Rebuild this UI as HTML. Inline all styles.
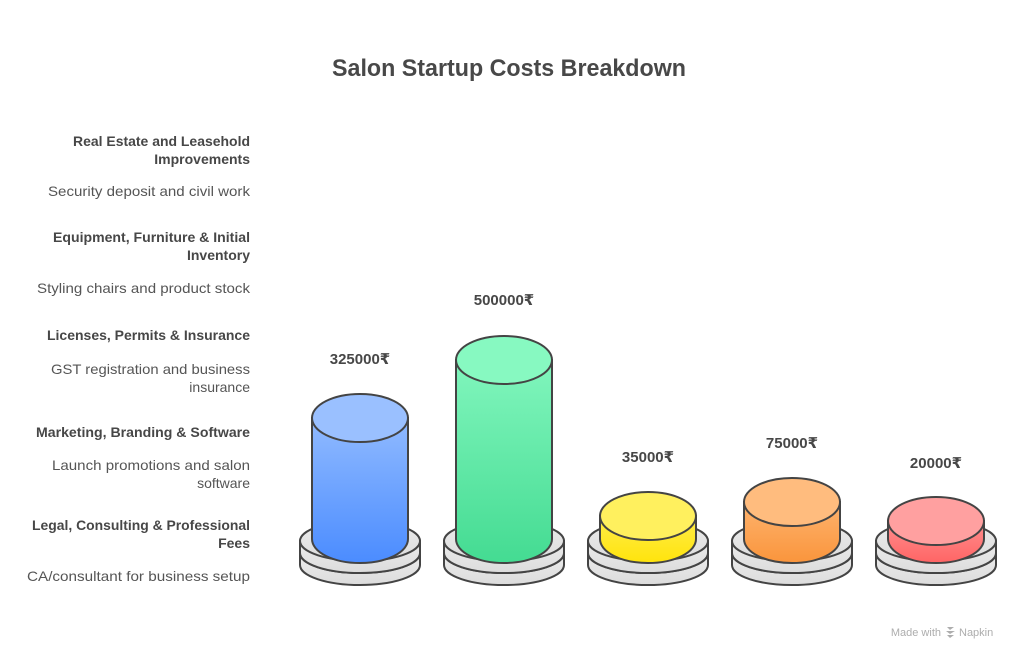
<!DOCTYPE html>
<html>
<head>
<meta charset="utf-8">
<style>
  html,body{margin:0;padding:0;background:#fff;}
  svg{display:block;}
  .h{font-family:"Liberation Sans","DejaVu Sans",sans-serif;font-weight:bold;font-size:14px;fill:#474747;}
  .d{font-family:"Liberation Sans","DejaVu Sans",sans-serif;font-size:14px;fill:#555;}
  .v{font-family:"Liberation Sans","DejaVu Sans",sans-serif;font-weight:bold;font-size:15px;fill:#474747;}
</style>
</head>
<body>
<svg width="1020" height="660" viewBox="0 0 1020 660" xmlns="http://www.w3.org/2000/svg">
  <defs>
    <linearGradient id="gPlate" x1="0" y1="0" x2="0" y2="1">
      <stop offset="0" stop-color="#ececec"/>
      <stop offset="1" stop-color="#dcdcdc"/>
    </linearGradient>
    <linearGradient id="gBlue" gradientUnits="userSpaceOnUse" x1="0" y1="394" x2="0" y2="563">
      <stop offset="0" stop-color="#9cc2ff"/>
      <stop offset="1" stop-color="#4b8cff"/>
    </linearGradient>
    <linearGradient id="gGreen" gradientUnits="userSpaceOnUse" x1="0" y1="336" x2="0" y2="563">
      <stop offset="0" stop-color="#88f9c2"/>
      <stop offset="1" stop-color="#44db92"/>
    </linearGradient>
    <linearGradient id="gYellow" gradientUnits="userSpaceOnUse" x1="0" y1="492" x2="0" y2="563">
      <stop offset="0" stop-color="#fff06a"/>
      <stop offset="1" stop-color="#ffe40c"/>
    </linearGradient>
    <linearGradient id="gOrange" gradientUnits="userSpaceOnUse" x1="0" y1="478" x2="0" y2="563">
      <stop offset="0" stop-color="#ffbf82"/>
      <stop offset="1" stop-color="#fa953c"/>
    </linearGradient>
    <linearGradient id="gRed" gradientUnits="userSpaceOnUse" x1="0" y1="497" x2="0" y2="563">
      <stop offset="0" stop-color="#ffa6a6"/>
      <stop offset="1" stop-color="#ff6565"/>
    </linearGradient>
  </defs>

  <!-- Title -->
  <text x="509" y="76" text-anchor="middle" font-family="Liberation Sans, DejaVu Sans, sans-serif" font-weight="bold" font-size="24" fill="#484848" textLength="354" lengthAdjust="spacingAndGlyphs">Salon Startup Costs Breakdown</text>

  <!-- Left labels -->
  <g text-anchor="end">
    <text class="h" x="250" y="146" textLength="177" lengthAdjust="spacingAndGlyphs">Real Estate and Leasehold</text>
    <text class="h" x="250" y="164">Improvements</text>
    <text class="d" x="250" y="196" textLength="202" lengthAdjust="spacingAndGlyphs">Security deposit and civil work</text>

    <text class="h" x="250" y="242" textLength="197" lengthAdjust="spacingAndGlyphs">Equipment, Furniture &amp; Initial</text>
    <text class="h" x="250" y="260">Inventory</text>
    <text class="d" x="250" y="293" textLength="213" lengthAdjust="spacingAndGlyphs">Styling chairs and product stock</text>

    <text class="h" x="250" y="340" textLength="203" lengthAdjust="spacingAndGlyphs">Licenses, Permits &amp; Insurance</text>
    <text class="d" x="250" y="374" textLength="199" lengthAdjust="spacingAndGlyphs">GST registration and business</text>
    <text class="d" x="250" y="392">insurance</text>

    <text class="h" x="250" y="437" textLength="214" lengthAdjust="spacingAndGlyphs">Marketing, Branding &amp; Software</text>
    <text class="d" x="250" y="470" textLength="198" lengthAdjust="spacingAndGlyphs">Launch promotions and salon</text>
    <text class="d" x="250" y="488">software</text>

    <text class="h" x="250" y="530" textLength="218" lengthAdjust="spacingAndGlyphs">Legal, Consulting &amp; Professional</text>
    <text class="h" x="250" y="548">Fees</text>
    <text class="d" x="250" y="581" textLength="223" lengthAdjust="spacingAndGlyphs">CA/consultant for business setup</text>
  </g>

  <!-- Plates -->
  <g stroke="#444" stroke-width="2" fill="url(#gPlate)">
    <path d="M300,553 L300,565 A60,20 0 0 0 420,565 L420,553 Z"/>
    <ellipse cx="360" cy="553" rx="60" ry="20"/>
    <path d="M300,541 L300,553 A60,20 0 0 0 420,553 L420,541 Z"/>
    <ellipse cx="360" cy="541" rx="60" ry="20"/>

    <path d="M444,553 L444,565 A60,20 0 0 0 564,565 L564,553 Z"/>
    <ellipse cx="504" cy="553" rx="60" ry="20"/>
    <path d="M444,541 L444,553 A60,20 0 0 0 564,553 L564,541 Z"/>
    <ellipse cx="504" cy="541" rx="60" ry="20"/>

    <path d="M588,553 L588,565 A60,20 0 0 0 708,565 L708,553 Z"/>
    <ellipse cx="648" cy="553" rx="60" ry="20"/>
    <path d="M588,541 L588,553 A60,20 0 0 0 708,553 L708,541 Z"/>
    <ellipse cx="648" cy="541" rx="60" ry="20"/>

    <path d="M732,553 L732,565 A60,20 0 0 0 852,565 L852,553 Z"/>
    <ellipse cx="792" cy="553" rx="60" ry="20"/>
    <path d="M732,541 L732,553 A60,20 0 0 0 852,553 L852,541 Z"/>
    <ellipse cx="792" cy="541" rx="60" ry="20"/>

    <path d="M876,553 L876,565 A60,20 0 0 0 996,565 L996,553 Z"/>
    <ellipse cx="936" cy="553" rx="60" ry="20"/>
    <path d="M876,541 L876,553 A60,20 0 0 0 996,553 L996,541 Z"/>
    <ellipse cx="936" cy="541" rx="60" ry="20"/>
  </g>

  <!-- Cylinders -->
  <g stroke="#444" stroke-width="2">
    <path d="M312,418 L312,539 A48,24 0 0 0 408,539 L408,418 Z" fill="url(#gBlue)"/>
    <ellipse cx="360" cy="418" rx="48" ry="24" fill="#9ac0ff"/>

    <path d="M456,360 L456,539 A48,24 0 0 0 552,539 L552,360 Z" fill="url(#gGreen)"/>
    <ellipse cx="504" cy="360" rx="48" ry="24" fill="#87f9c1"/>

    <path d="M600,516 L600,539 A48,24 0 0 0 696,539 L696,516 Z" fill="url(#gYellow)"/>
    <ellipse cx="648" cy="516" rx="48" ry="24" fill="#fff05e"/>

    <path d="M744,502 L744,539 A48,24 0 0 0 840,539 L840,502 Z" fill="url(#gOrange)"/>
    <ellipse cx="792" cy="502" rx="48" ry="24" fill="#ffbc7e"/>

    <path d="M888,521 L888,539 A48,24 0 0 0 984,539 L984,521 Z" fill="url(#gRed)"/>
    <ellipse cx="936" cy="521" rx="48" ry="24" fill="#ffa0a0"/>
  </g>

  <!-- Value labels -->
  <g text-anchor="middle">
    <text class="v" x="360" y="364">325000₹</text>
    <text class="v" x="504" y="305">500000₹</text>
    <text class="v" x="648" y="462">35000₹</text>
    <text class="v" x="792" y="448">75000₹</text>
    <text class="v" x="936" y="468">20000₹</text>
  </g>

  <!-- Footer -->
  <text x="941" y="636" text-anchor="end" font-family="Liberation Sans, DejaVu Sans, sans-serif" font-size="11" fill="#adadad">Made with</text>
  <g fill="#adadad">
    <path d="M947,627 L954,627 L950,630 Z"/>
    <path d="M946,631 L955,631 L950,634 Z"/>
    <path d="M947,635 L954,635 L950,638 Z"/>
  </g>
  <text x="959" y="636" font-family="Liberation Sans, DejaVu Sans, sans-serif" font-size="11" fill="#adadad">Napkin</text>
</svg>
</body>
</html>
